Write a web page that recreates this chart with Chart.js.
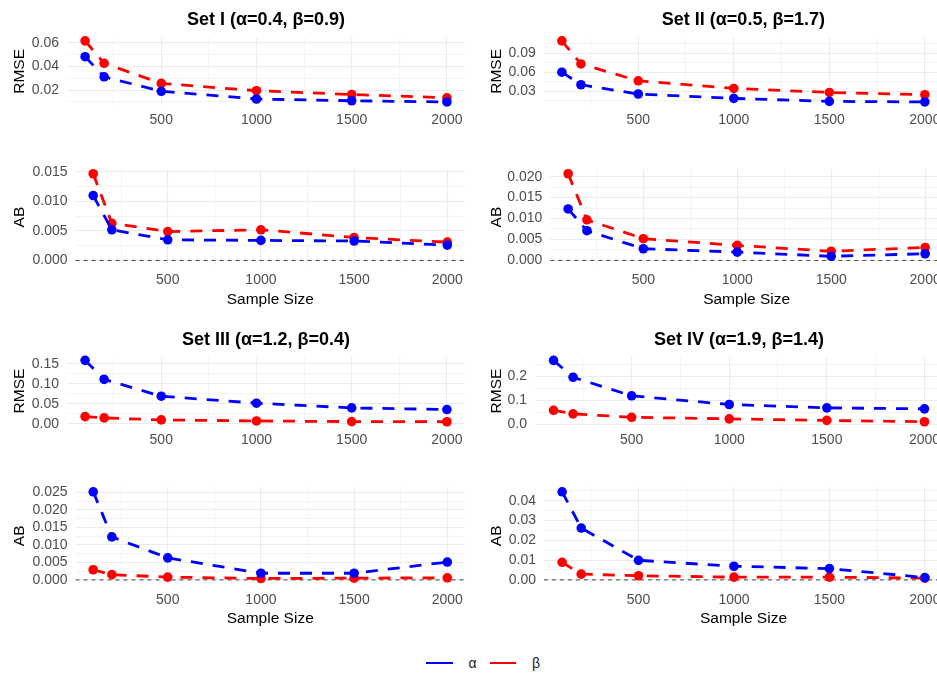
<!DOCTYPE html>
<html>
<head>
<meta charset="utf-8">
<title>RMSE and AB by sample size</title>
<script src="https://cdn.jsdelivr.net/npm/chart.js@4.4.1/dist/chart.umd.min.js"></script>
<style>
  html, body { margin: 0; padding: 0; background: #fff; }
  #page { position: relative; width: 937px; height: 673px; overflow: hidden; font-family: "Liberation Sans", Arial, sans-serif; }
  #page canvas { position: absolute; }
  #legend { position: absolute; left: 426px; top: 653px; height: 20px; display: flex; align-items: center; font-size: 14px; color: #222; }
  #legend .key { display: inline-block; width: 26.5px; height: 2.8px; }
  #legend .lab { display: inline-block; margin: 0 13px 0 16px; }
</style>
</head>
<body>
<div id="page">
  <div id="legend"></div>
</div>
<script>
// sample sizes on the x axis
const sampleSizes = [100, 200, 500, 1000, 1500, 2000];
const xTickLabels = ['500', '1000', '1500', '2000'];
const seriesNames = ['α', 'β'];

const setTitles = [
  'Set I (α=0.4, β=0.9)',
  'Set II (α=0.5, β=1.7)',
  'Set III (α=1.2, β=0.4)',
  'Set IV (α=1.9, β=1.4)'
];

// Set I
const rmseAlphaI = [0.0483, 0.0313, 0.0190, 0.0125, 0.0110, 0.0100];
const rmseBetaI  = [0.0617, 0.0427, 0.0257, 0.0195, 0.0163, 0.0135];
const abAlphaI   = [0.0110, 0.0052, 0.0035, 0.0034, 0.0033, 0.0026];
const abBetaI    = [0.0147, 0.0063, 0.0049, 0.0052, 0.0039, 0.0031];

// Set II
const rmseAlphaII = [0.0603, 0.0405, 0.0259, 0.0190, 0.0143, 0.0134];
const rmseBetaII  = [0.1097, 0.0733, 0.0467, 0.0347, 0.0284, 0.0248];
const abAlphaII   = [0.0123, 0.0071, 0.0028, 0.0020, 0.0010, 0.0016];
const abBetaII    = [0.0207, 0.0097, 0.0052, 0.0036, 0.0022, 0.0031];

// Set III
const rmseAlphaIII = [0.1583, 0.1110, 0.0690, 0.0517, 0.0400, 0.0358];
const rmseBetaIII  = [0.0183, 0.0150, 0.0100, 0.0075, 0.0058, 0.0055];
const abAlphaIII   = [0.0252, 0.0123, 0.0063, 0.0019, 0.0019, 0.0051];
const abBetaIII    = [0.0029, 0.0015, 0.0008, 0.0004, 0.0005, 0.0006];

// Set IV
const rmseAlphaIV = [0.266, 0.196, 0.119, 0.083, 0.069, 0.065];
const rmseBetaIV  = [0.059, 0.044, 0.030, 0.0235, 0.017, 0.0115];
const abAlphaIV   = [0.0445, 0.0262, 0.0099, 0.0069, 0.0057, 0.0012];
const abBetaIV    = [0.0089, 0.0029, 0.0021, 0.0014, 0.0014, 0.0009];

// y tick labels
const rmseTicksI   = ['0.02', '0.04', '0.06'];
const abTicksI     = ['0.000', '0.005', '0.010', '0.015'];
const rmseTicksII  = ['0.03', '0.06', '0.09'];
const abTicksII    = ['0.000', '0.005', '0.010', '0.015', '0.020'];
const rmseTicksIII = ['0.00', '0.05', '0.10', '0.15'];
const abTicksIII   = ['0.000', '0.005', '0.010', '0.015', '0.020', '0.025'];
const rmseTicksIV  = ['0.0', '0.1', '0.2'];
const abTicksIV    = ['0.00', '0.01', '0.02', '0.03', '0.04'];

const sets = [
  { rmse: [rmseAlphaI, rmseBetaI], ab: [abAlphaI, abBetaI], rmseTicks: rmseTicksI, abTicks: abTicksI },
  { rmse: [rmseAlphaII, rmseBetaII], ab: [abAlphaII, abBetaII], rmseTicks: rmseTicksII, abTicks: abTicksII },
  { rmse: [rmseAlphaIII, rmseBetaIII], ab: [abAlphaIII, abBetaIII], rmseTicks: rmseTicksIII, abTicks: abTicksIII },
  { rmse: [rmseAlphaIV, rmseBetaIV], ab: [abAlphaIV, abBetaIV], rmseTicks: rmseTicksIV, abTicks: abTicksIV }
];

const colors = ['#0000FF', '#FF0000'];
const FONT = '"Liberation Sans", Arial, sans-serif';
Chart.defaults.font.family = FONT;

// page layout (pixels)
const colLeft = [0, 477];
const colRight = [465, 943];
const plotLefts = [[67, 75.5], [543.7, 550.3], [67, 75.5], [535, 544]];
const rmseRows = [[37.8, 105], [357.3, 424.8]];
const abRows = [[171, 264.8], [489.2, 584.3]];

// ggplot-like range: data (+ zero line) expanded by 5%
function expandRange(values, withZero) {
    let lo = Math.min(...values);
    let hi = Math.max(...values);
    if (withZero) lo = Math.min(lo, 0);
    const pad = (hi - lo) * 0.05;
    return [lo - pad, hi + pad];
}

// major ticks from labels, minor ticks halfway between
function makeTicks(labels, min, max) {
    const vals = labels.map(Number);
    const half = (vals[1] - vals[0]) / 2;
    const out = [];
    for (let k = Math.ceil(min / half); k <= Math.floor(max / half); k++) {
        const v = k * half;
        const lab = labels.find(s => Math.abs(Number(s) - v) < half / 10);
        out.push({ value: v, text: lab || '', minor: !lab });
    }
    return out;
}

const zeroLine = {
    id: 'zeroLine',
    beforeDatasetsDraw(chart, args, opts) {
        if (!opts.show) return;
        const { ctx, chartArea, scales } = chart;
        const y = scales.y.getPixelForValue(0);
        ctx.save();
        ctx.strokeStyle = '#555555';
        ctx.lineWidth = 1.1;
        ctx.setLineDash([4, 4]);
        ctx.beginPath();
        ctx.moveTo(chartArea.left, y);
        ctx.lineTo(chartArea.right, y);
        ctx.stroke();
        ctx.restore();
    }
};

// centre the title over the panel, not the canvas
const panelTitle = {
    id: 'panelTitle',
    afterLayout(chart) {
        const t = chart.titleBlock;
        if (t) {
            t.left = chart.chartArea.left;
            t.right = chart.chartArea.right;
            t.width = t.right - t.left;
        }
    }
};

const page = document.getElementById('page');

function makePanel(opts) {
    const { title, metric, series, tickLabels, col, plotLeft, top, bottom } = opts;
    const isAB = metric === 'AB';
    const plotRight = colRight[col];
    const cLeft = colLeft[col];
    const cRight = plotRight + 7;
    const W = cRight - cLeft;
    const titleBox = 32.5;
    const xAxisH = isAB ? 46.1 : 30;
    const topSpace = isAB ? 18 : titleBox;
    const cTop = Math.floor(top - topSpace);
    const padTop = (top - topSpace) - cTop;
    const cBottom = Math.ceil(bottom + xAxisH);
    const padBottom = cBottom - (bottom + xAxisH);
    const H = cBottom - cTop;

    const canvas = document.createElement('canvas');
    canvas.width = W;
    canvas.height = H;
    canvas.style.left = cLeft + 'px';
    canvas.style.top = cTop + 'px';
    canvas.style.width = W + 'px';
    canvas.style.height = H + 'px';
    page.appendChild(canvas);

    const [yMin, yMax] = expandRange(series[0].concat(series[1]), isAB);
    const [xMin, xMax] = expandRange(sampleSizes, false);
    const yTicks = makeTicks(tickLabels, yMin, yMax);
    const xTicks = makeTicks(xTickLabels, xMin, xMax);

    const gridColor = c => (c.tick && c.tick.minor) ? '#F3F3F3' : '#EBEBEB';

    new Chart(canvas, {
        type: 'line',
        data: {
            labels: sampleSizes,
            datasets: series.map((vals, i) => ({
                label: seriesNames[i],
                data: vals,
                borderColor: colors[i],
                backgroundColor: colors[i],
                pointBackgroundColor: colors[i],
                pointBorderWidth: 0,
                pointRadius: 4.8,
                borderWidth: 2.8,
                borderDash: [12, 10],
                tension: 0,
                fill: false,
                clip: false
            }))
        },
        options: {
            responsive: false,
            animation: false,
            devicePixelRatio: 1,
            events: [],
            layout: { padding: { left: 0, right: 7, top: padTop, bottom: padBottom } },
            plugins: {
                legend: { display: false },
                tooltip: { enabled: false },
                zeroLine: { show: isAB },
                title: {
                    display: !!title,
                    text: title || '',
                    color: '#000',
                    font: { size: 18, weight: 'bold', family: FONT },
                    padding: { top: 4, bottom: 6.9 }
                }
            },
            scales: {
                x: {
                    type: 'linear',
                    min: xMin,
                    max: xMax,
                    afterBuildTicks: s => { s.ticks = xTicks.map(t => Object.assign({}, t)); },
                    afterFit: s => { s.height = xAxisH; },
                    border: { display: false },
                    grid: { drawTicks: false, color: gridColor, lineWidth: 1.1 },
                    ticks: {
                        autoSkip: false,
                        maxRotation: 0,
                        padding: 7,
                        color: '#4D4D4D',
                        font: { size: 14 },
                        callback: (v, i, ticks) => ticks[i].text
                    },
                    title: {
                        display: isAB,
                        text: 'Sample Size',
                        color: '#000',
                        font: { size: 15.5 },
                        padding: { top: 0, bottom: 2 }
                    }
                },
                y: {
                    type: 'linear',
                    min: yMin,
                    max: yMax,
                    afterBuildTicks: s => { s.ticks = yTicks.map(t => Object.assign({}, t)); },
                    afterFit: s => { s.width = plotLeft - cLeft; },
                    border: { display: false },
                    grid: { drawTicks: false, color: gridColor, lineWidth: 1.1 },
                    ticks: {
                        autoSkip: false,
                        padding: 8,
                        color: '#4D4D4D',
                        font: { size: 14 },
                        callback: (v, i, ticks) => ticks[i].text
                    },
                    title: {
                        display: true,
                        text: metric,
                        color: '#000',
                        font: { size: 15.5 },
                        padding: { top: 10.2, bottom: 0 }
                    }
                }
            }
        },
        plugins: [zeroLine, panelTitle]
    });
}

sets.forEach((set, i) => {
    const col = i % 2;
    const pair = Math.floor(i / 2);
    makePanel({
        title: setTitles[i], metric: 'RMSE', series: set.rmse, tickLabels: set.rmseTicks,
        col: col, plotLeft: plotLefts[i][0], top: rmseRows[pair][0], bottom: rmseRows[pair][1]
    });
    makePanel({
        title: null, metric: 'AB', series: set.ab, tickLabels: set.abTicks,
        col: col, plotLeft: plotLefts[i][1], top: abRows[pair][0], bottom: abRows[pair][1]
    });
});

// shared legend
const legend = document.getElementById('legend');
seriesNames.forEach((name, i) => {
    const key = document.createElement('span');
    key.className = 'key';
    key.style.background = colors[i];
    const lab = document.createElement('span');
    lab.className = 'lab';
    lab.textContent = name;
    legend.appendChild(key);
    legend.appendChild(lab);
});
</script>
</body>
</html>
